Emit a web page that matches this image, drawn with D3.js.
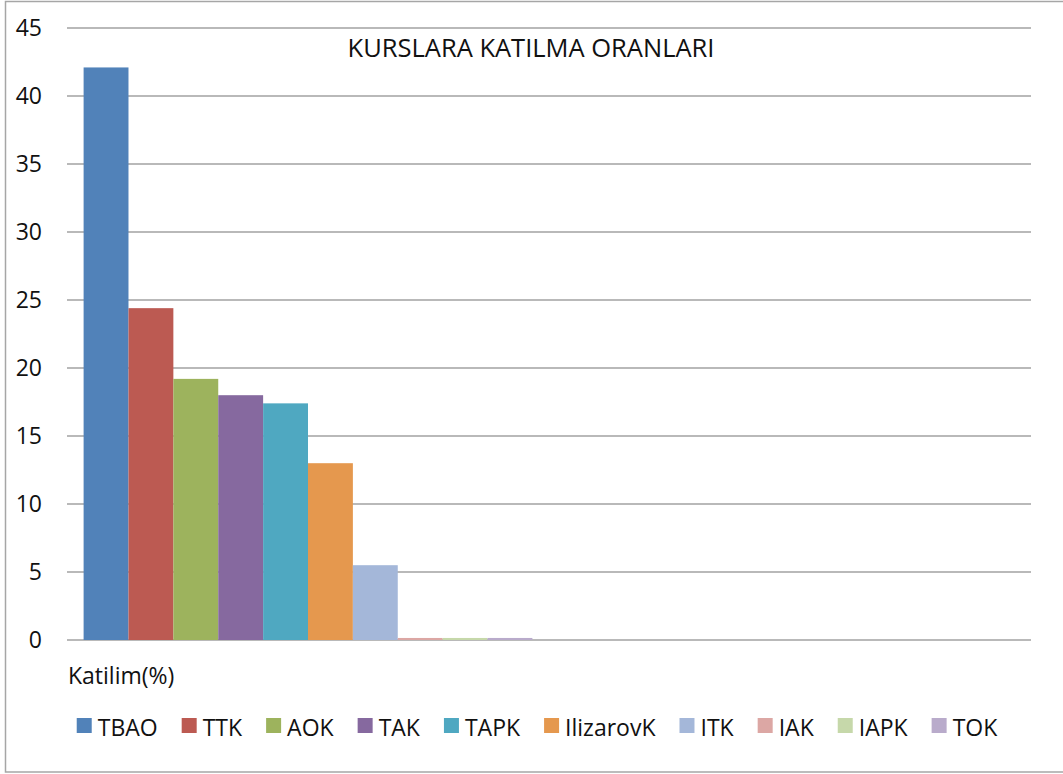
<!DOCTYPE html>
<html>
<head>
<meta charset="utf-8">
<script src="https://cdn.jsdelivr.net/npm/d3@7"></script>
<style>
  body { margin: 0; background: #fff; }
  svg { display: block; font-family: "Open Sans", "Noto Sans", sans-serif; }
</style>
</head>
<body>
<svg width="1063" height="774"></svg>
<script>
// data
var categories = ["Katilim(%)", ""];
var series = ["TBAO", "TTK", "AOK", "TAK", "TAPK", "IlizarovK", "ITK", "IAK", "IAPK", "TOK"];
var values = [42.1, 24.4, 19.2, 18.0, 17.4, 13.0, 5.5, 0.15, 0.15, 0.15];
var colors = ["#5182B9", "#BC5A52", "#9DB35D", "#86699F", "#4FA8C1", "#E5984E", "#A4B7D9", "#DCA7A4", "#C6D8AA", "#B9ABCB"];
var yTicks = [0, 5, 10, 15, 20, 25, 30, 35, 40, 45];
var title = "KURSLARA KATILMA ORANLARI";

var svg = d3.select("svg");
var margin = {top: 28, right: 32, bottom: 134, left: 67};
var width = +svg.attr("width") - margin.left - margin.right;
var height = +svg.attr("height") - margin.top - margin.bottom;

// outer frame
svg.append("rect")
    .attr("x", 5.5).attr("y", 1.5)
    .attr("width", 1060).attr("height", 770.5)
    .attr("fill", "none")
    .attr("stroke", "#A6A6A6")
    .attr("stroke-width", 1.5);

var g = svg.append("g")
    .attr("transform", "translate(" + margin.left + "," + margin.top + ")");

var x0 = d3.scaleBand().domain(categories).range([0, width]).padding(0);
var x1 = d3.scaleBand().domain(series).range([0, x0.bandwidth()]).paddingInner(0).paddingOuter(0.37);
var y = d3.scaleLinear().domain([0, 45]).range([height, 0]);

// gridlines
g.append("g")
    .selectAll("line")
    .data(yTicks)
    .enter().append("line")
    .attr("x1", 0).attr("x2", width)
    .attr("y1", function(d) { return y(d); })
    .attr("y2", function(d) { return y(d); })
    .attr("stroke", "#A2A2A2")
    .attr("stroke-width", 1.7);

// y axis labels
var yAxis = g.append("g")
    .call(d3.axisLeft(y).tickValues(yTicks).tickSize(0).tickPadding(25));
yAxis.select(".domain").remove();
yAxis.selectAll("text")
    .attr("font-size", 23)
    .attr("font-family", "'Open Sans', sans-serif")
    .attr("fill", "#111");

// bars
g.append("g")
    .attr("transform", "translate(" + x0(categories[0]) + ",0)")
    .selectAll("rect")
    .data(values)
    .enter().append("rect")
    .attr("x", function(d, i) { return x1(series[i]); })
    .attr("width", x1.bandwidth())
    .attr("y", function(d) { return y(d); })
    .attr("height", function(d) { return y(0) - y(d); })
    .attr("fill", function(d, i) { return colors[i]; });

// category label
g.append("text")
    .attr("x", x0(categories[0]) + 1)
    .attr("y", height + 44)
    .attr("font-size", 23)
    .attr("fill", "#111")
    .text(categories[0]);

// title
svg.append("text")
    .attr("x", 531)
    .attr("y", 57)
    .attr("text-anchor", "middle")
    .attr("font-size", 25.5)
    .attr("fill", "#111")
    .text(title);

// legend, laid out from measured text widths and centred
var legend = svg.append("g");
var items = legend.selectAll("g")
    .data(series)
    .enter().append("g");
items.append("rect")
    .attr("width", 15).attr("height", 15)
    .attr("y", 718)
    .attr("fill", function(d, i) { return colors[i]; });
items.append("text")
    .attr("x", 21)
    .attr("y", 736)
    .attr("font-size", 23)
    .attr("fill", "#111")
    .text(function(d) { return d; });

var pos = 0;
items.each(function() {
    var w = this.querySelector("text").getComputedTextLength();
    d3.select(this).attr("transform", "translate(" + pos + ",0)");
    pos += 21 + w + 24;
});
var total = pos - 24;
legend.attr("transform", "translate(" + (537 - total / 2) + ",0)");
</script>
</body>
</html>
